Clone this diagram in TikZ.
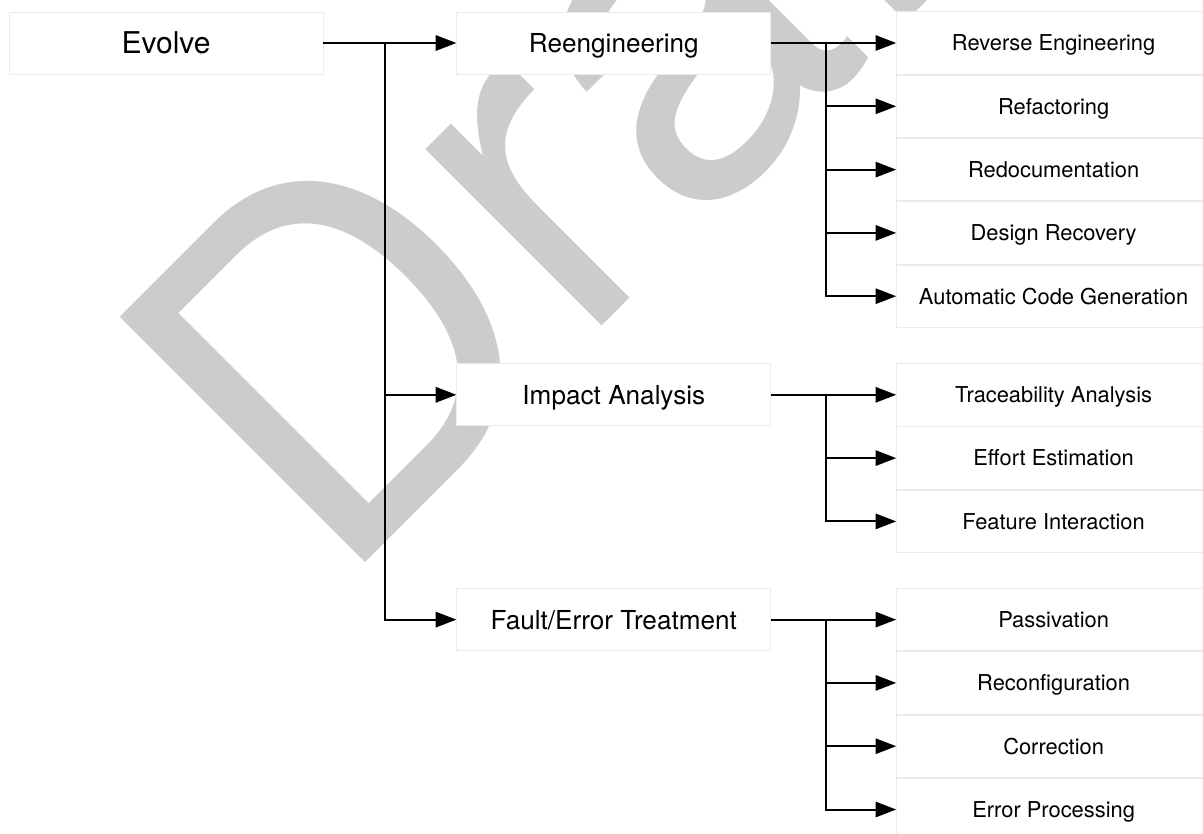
\documentclass[tikz,border=0pt]{standalone}
\usepackage{fontspec}
\setmainfont{TeX Gyre Heros}
\usepackage{tikz}
\usetikzlibrary{positioning, arrows.meta}
\definecolor{wmgray}{HTML}{CCCCCC}
\definecolor{boxline}{HTML}{EBEBEB}

\begin{document}
\begin{tikzpicture}[
    x=0.75pt, y=-0.75pt,
    basenode/.style={rectangle, draw=boxline, line width=0.6pt, fill=white, inner sep=0pt, minimum width=235.5pt, text depth=0pt},
    rootnode/.style={basenode, minimum height=46.5pt, font=\fontsize{22.5pt}{27pt}\selectfont, text height=16.2pt},
    midnode/.style={basenode, minimum height=46.5pt, font=\fontsize{19.6pt}{24pt}\selectfont, text height=14.1pt},
    leafnode/.style={basenode, minimum height=46.875pt, font=\fontsize{16.4pt}{20pt}\selectfont, text height=11.8pt},
    trunk/.style={line width=1.5pt},
    link/.style={trunk, -{Triangle[length=15.5pt, width=11.5pt]}}
]
\useasboundingbox (0,0) rectangle (1203,833);

% watermark
\node[wmgray, font=\fontsize{357pt}{357pt}\selectfont, rotate=45, anchor=base west, inner sep=0pt](draft) at (335.3,592.3){Draft};

% first level
\node[rootnode](evolve) at (166,43){Evolve};
\node[midnode](reeng)[right = 99.75pt of evolve]{Reengineering};
\node[midnode](impact)[below = 216.75pt of reeng]{Impact Analysis};
\node[midnode](fault)[below = 121.5pt of impact]{Fault/Error Treatment};

% reengineering
\node[leafnode](rev)[right = 93.75pt of reeng]{Reverse Engineering};
\node[leafnode](refac)[below = 0pt of rev]{Refactoring};
\node[leafnode](redoc)[below = 0pt of refac]{Redocumentation};
\node[leafnode](design)[below = 0pt of redoc]{Design Recovery};
\node[leafnode](autogen)[below = 0pt of design]{Automatic Code Generation};

% impact analysis
\node[leafnode](trace)[right = 93.75pt of impact]{Traceability Analysis};
\node[leafnode](effort)[below = 0pt of trace]{Effort Estimation};
\node[leafnode](feature)[below = 0pt of effort]{Feature Interaction};

% fault/error treatment
\node[leafnode](passiv)[right = 93.75pt of fault]{Passivation};
\node[leafnode](reconf)[below = 0pt of passiv]{Reconfiguration};
\node[leafnode](correct)[below = 0pt of reconf]{Correction};
\node[leafnode](errproc)[below = 0pt of correct]{Error Processing};

\coordinate[right = 46.5pt of evolve.east](split1);
\coordinate[right = 41.25pt of reeng.east](split2);
\coordinate[right = 41.25pt of impact.east](split3);
\coordinate[right = 41.25pt of fault.east](split4);

\draw[link] (evolve.east) -- (reeng.west);
\draw[link] (split1) |- (impact.west);
\draw[link] (split1) |- (fault.west);

\draw[link] (reeng.east) -- (rev.west);
\draw[link] (split2) |- (refac.west);
\draw[link] (split2) |- (redoc.west);
\draw[link] (split2) |- (design.west);
\draw[link] (split2) |- (autogen.west);

\draw[link] (impact.east) -- (trace.west);
\draw[link] (split3) |- (effort.west);
\draw[link] (split3) |- (feature.west);

\draw[link] (fault.east) -- (passiv.west);
\draw[link] (split4) |- (reconf.west);
\draw[link] (split4) |- (correct.west);
\draw[link] (split4) |- (errproc.west);
\end{tikzpicture}
\end{document}
